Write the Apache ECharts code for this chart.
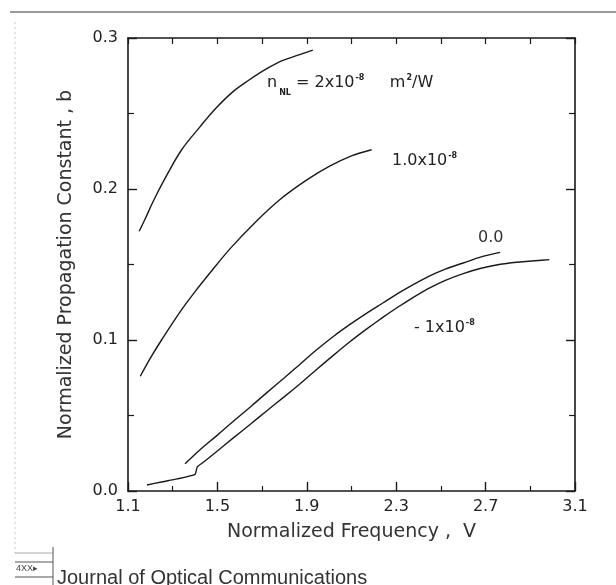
<!DOCTYPE html>
<html>
<head>
<meta charset="utf-8">
<script src="https://cdn.jsdelivr.net/npm/echarts@6/dist/echarts.min.js"></script>
<style>
  html, body { margin: 0; padding: 0; background: #fff; }
  #chart { width: 616px; height: 585px; }
</style>
</head>
<body>
<div id="chart"></div>
<script>
// b(V) curves for each nonlinear coefficient n_NL
const v2e8 = [1.15, 1.176, 1.22, 1.273, 1.34, 1.421, 1.49, 1.57, 1.64, 1.719, 1.79, 1.868, 1.927]
const b2e8 = [0.172, 0.180, 0.194, 0.209, 0.226, 0.241, 0.253, 0.2645, 0.272, 0.2795, 0.285, 0.289, 0.292]

const v1e8 = [1.155, 1.20, 1.25, 1.33, 1.40, 1.47, 1.56, 1.67, 1.78, 1.90, 2.00, 2.10, 2.19]
const b1e8 = [0.076, 0.088, 0.100, 0.118, 0.132, 0.145, 0.161, 0.178, 0.193, 0.206, 0.215, 0.222, 0.226]

const v0 = [1.355, 1.42, 1.50, 1.57, 1.65, 1.72, 1.80, 1.87, 1.94, 2.02, 2.09, 2.17, 2.24, 2.31, 2.38, 2.45, 2.52, 2.60, 2.68, 2.765]
const b0 = [0.018, 0.027, 0.037, 0.046, 0.056, 0.065, 0.075, 0.084, 0.093, 0.1025, 0.110, 0.118, 0.1245, 0.131, 0.137, 0.1425, 0.147, 0.151, 0.155, 0.158]

const vm1e8 = [1.185, 1.25, 1.32, 1.40, 1.41, 1.45, 1.50, 1.57, 1.65, 1.72, 1.80, 1.87, 1.94, 2.02, 2.09, 2.17, 2.24, 2.31, 2.38, 2.45, 2.52, 2.60, 2.68, 2.76, 2.84, 2.92, 2.985]
const bm1e8 = [0.004, 0.006, 0.008, 0.011, 0.016, 0.0205, 0.0265, 0.035, 0.0445, 0.053, 0.0625, 0.071, 0.080, 0.090, 0.0985, 0.1075, 0.115, 0.122, 0.1285, 0.1345, 0.1395, 0.144, 0.1475, 0.150, 0.1515, 0.1525, 0.1532]

// axis ticks
const xLabels = [1.1, 1.5, 1.9, 2.3, 2.7, 3.1]
const xMinor = [1.3, 1.7, 2.1, 2.5, 2.9]
const xAllTicks = [1.1, 1.3, 1.5, 1.7, 1.9, 2.1, 2.3, 2.5, 2.7, 2.9, 3.1]

const pairs = (xs, ys) => xs.map((x, i) => [x, ys[i]])

const chart = echarts.init(document.getElementById('chart'))
const ink = '#1a1a1a'
const font = 'DejaVu Sans, sans-serif'
const footFont = 'Liberation Sans, Arial, sans-serif'

const lineSeries = (name, data, smooth) => ({
  name: name,
  type: 'line',
  data: data,
  symbol: 'none',
  smooth: smooth,
  lineStyle: { color: ink, width: 1.4 },
  silent: true
})

const baseX = {
  type: 'value',
  min: 1.1,
  max: 3.1,
  splitLine: { show: false }
}

const supText = (main, size) => ({
  text: '{a|' + main + '}{sup|-8}',
  fill: '#222',
  verticalAlign: 'middle',
  rich: {
    a: { fontSize: size, fontFamily: font, fill: '#222' },
    sup: { fontSize: 8, fontFamily: font, fill: '#222', fontWeight: 'bold', padding: [0, 0, 10, 1] }
  }
})

let option = {
  animation: false,
  backgroundColor: '#fff',
  grid: { left: 128, right: 41, top: 38, bottom: 94 },
  xAxis: [
    Object.assign({}, baseX, {
      position: 'bottom',
      name: 'Normalized Frequency ,  V',
      nameLocation: 'middle',
      nameGap: 32,
      nameTextStyle: { color: '#333', fontSize: 19, fontFamily: font },
      axisLine: { lineStyle: { color: ink, width: 1.6 } },
      axisTick: { inside: true, length: 9, customValues: xLabels, lineStyle: { color: ink, width: 1.4 } },
      axisLabel: { customValues: xLabels, color: '#222', fontSize: 16, fontFamily: font, margin: 8,
        formatter: v => v.toFixed(1) }
    }),
    Object.assign({}, baseX, {
      position: 'bottom',
      axisLine: { show: false },
      axisTick: { inside: true, length: 5, customValues: xMinor, lineStyle: { color: ink, width: 1.2 } },
      axisLabel: { show: false }
    }),
    Object.assign({}, baseX, {
      position: 'top',
      axisLine: { lineStyle: { color: ink, width: 1.6 } },
      axisTick: { inside: true, length: 6, customValues: xAllTicks, lineStyle: { color: ink, width: 1.2 } },
      axisLabel: { show: false }
    })
  ],
  yAxis: [
    {
      type: 'value',
      position: 'left',
      min: 0,
      max: 0.3,
      interval: 0.1,
      name: 'Normalized Propagation Constant , b',
      nameLocation: 'middle',
      nameGap: 52,
      nameTextStyle: { color: '#333', fontSize: 19, fontFamily: font },
      splitLine: { show: false },
      axisLine: { show: true, lineStyle: { color: ink, width: 1.6 } },
      axisTick: { inside: true, length: 9, lineStyle: { color: ink, width: 1.4 } },
      minorTick: { show: true, splitNumber: 2, length: 6, lineStyle: { color: ink, width: 1.2 } },
      axisLabel: { color: '#222', fontSize: 16, fontFamily: font, margin: 10, formatter: v => v.toFixed(1) }
    },
    {
      type: 'value',
      position: 'right',
      min: 0,
      max: 0.3,
      interval: 0.1,
      splitLine: { show: false },
      axisLine: { show: true, lineStyle: { color: ink, width: 1.6 } },
      axisTick: { inside: true, length: 9, lineStyle: { color: ink, width: 1.4 } },
      minorTick: { show: true, splitNumber: 2, length: 6, lineStyle: { color: ink, width: 1.2 } },
      axisLabel: { show: false }
    }
  ],
  series: [
    lineSeries('2x10^-8', pairs(v2e8, b2e8), 0.35),
    lineSeries('1.0x10^-8', pairs(v1e8, b1e8), 0.35),
    lineSeries('0.0', pairs(v0, b0), 0.35),
    lineSeries('-1x10^-8', pairs(vm1e8, bm1e8), 0.15)
  ],
  graphic: [
    // page furniture of the scanned figure
    { type: 'line', shape: { x1: 10, y1: 12, x2: 616, y2: 12 }, style: { stroke: '#9a9a9a', lineWidth: 2 } },
    { type: 'line', shape: { x1: 15, y1: 22, x2: 15, y2: 553 }, style: { stroke: '#c8c8c8', lineWidth: 1, lineDash: [2, 3] } },
    { type: 'line', shape: { x1: 15, y1: 553, x2: 53, y2: 553 }, style: { stroke: '#aaa', lineWidth: 1 } },
    { type: 'line', shape: { x1: 53, y1: 547, x2: 53, y2: 585 }, style: { stroke: '#555', lineWidth: 1 } },
    { type: 'line', shape: { x1: 15, y1: 562, x2: 53, y2: 562 }, style: { stroke: '#555', lineWidth: 1.2 } },
    { type: 'line', shape: { x1: 15, y1: 577, x2: 53, y2: 577 }, style: { stroke: '#555', lineWidth: 1.2 } },
    { type: 'text', x: 16, y: 564, style: { text: '4XX▸', fontSize: 9, fontFamily: footFont, fill: '#444' } },
    { type: 'text', x: 57, y: 568, style: { text: 'Journal of Optical Communications', fontSize: 20, fontFamily: footFont, fill: '#333' } },
    // curve annotations
    {
      type: 'text', x: 267, y: 83,
      style: {
        text: '{a|n}{sub|NL}{a| = 2x10}{sup|-8}{a|     m}{sup|2}{a|/W}',
        fill: '#222',
        verticalAlign: 'middle',
        rich: {
          a: { fontSize: 16, fontFamily: font, fill: '#222' },
          sub: { fontSize: 8, fontFamily: font, fill: '#222', fontWeight: 'bold', padding: [20, 0, 0, 2] },
          sup: { fontSize: 8, fontFamily: font, fill: '#222', fontWeight: 'bold', padding: [0, 0, 10, 1] }
        }
      }
    },
    { type: 'text', x: 392, y: 161, style: supText('1.0x10', 16) },
    { type: 'text', x: 478, y: 238, style: { text: '0.0', fontSize: 16, fontFamily: font, fill: '#333', verticalAlign: 'middle' } },
    { type: 'text', x: 414, y: 328, style: supText('- 1x10', 16) }
  ]
}

chart.setOption(option)
</script>
</body>
</html>
